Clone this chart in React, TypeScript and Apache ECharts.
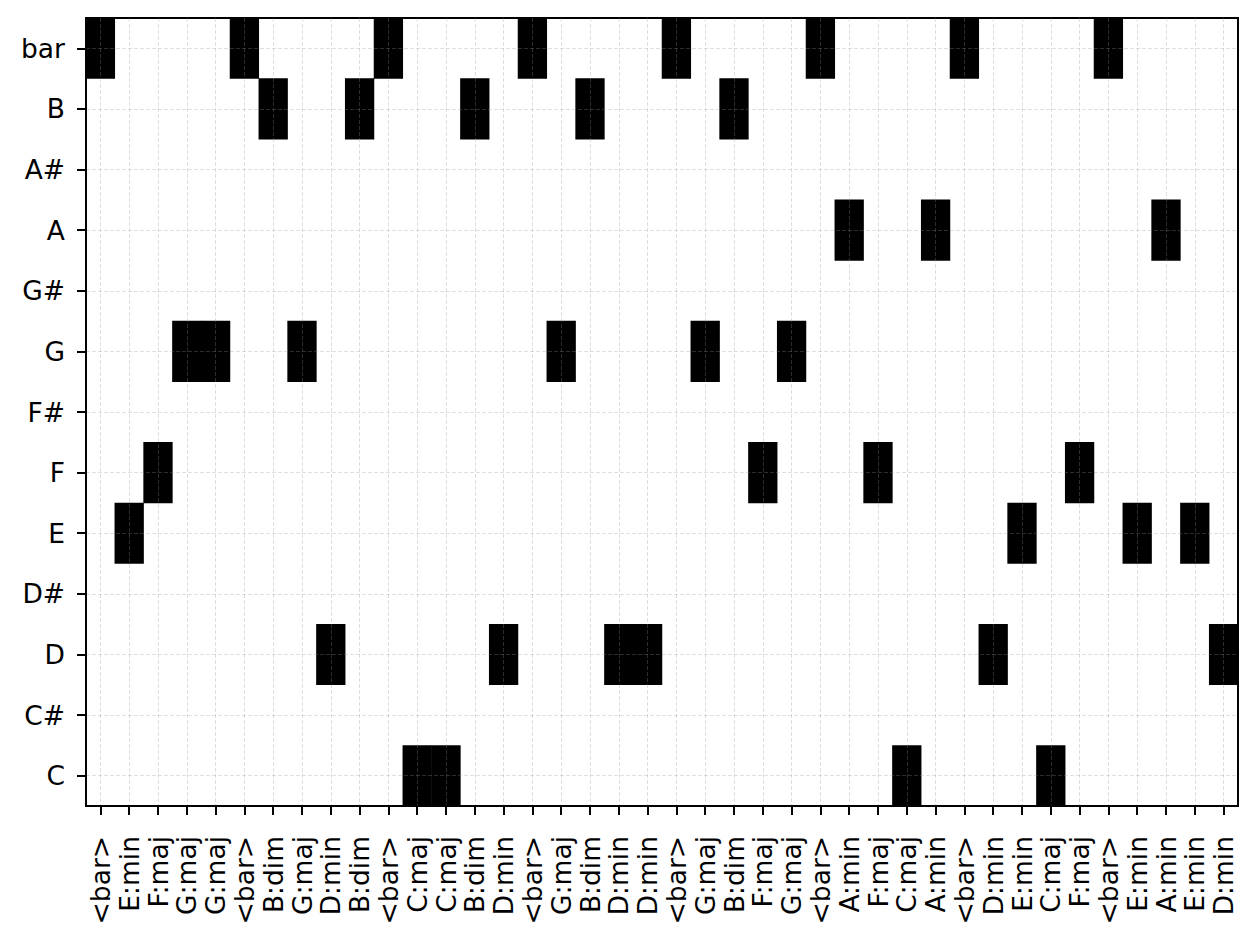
import React, { useEffect, useRef } from "react";
import * as echarts from "echarts";

const chordLabels = [
  "<bar>", "E:min", "F:maj", "G:maj", "G:maj", "<bar>", "B:dim", "G:maj", "D:min", "B:dim",
  "<bar>", "C:maj", "C:maj", "B:dim", "D:min", "<bar>", "G:maj", "B:dim", "D:min", "D:min",
  "<bar>", "G:maj", "B:dim", "F:maj", "G:maj", "<bar>", "A:min", "F:maj", "C:maj", "A:min",
  "<bar>", "D:min", "E:min", "C:maj", "F:maj", "<bar>", "E:min", "A:min", "E:min", "D:min",
];

const noteRows = ["C", "C#", "D", "D#", "E", "F", "F#", "G", "G#", "A", "A#", "B", "bar"];

const activeNotes = [
  "bar", "E", "F", "G", "G", "bar", "B", "G", "D", "B",
  "bar", "C", "C", "B", "D", "bar", "G", "B", "D", "D",
  "bar", "G", "B", "F", "G", "bar", "A", "F", "C", "A",
  "bar", "D", "E", "C", "F", "bar", "E", "A", "E", "D",
];

export default function App() {
  const ref = useRef<HTMLDivElement>(null);
  useEffect(() => {
    if (!ref.current) return;
    const chart = echarts.init(ref.current, null, { renderer: "svg" });
    const data = activeNotes.map((n, i) => [i, noteRows.indexOf(n), 1]);
    const font = "DejaVu Sans";
    const gridLine = {
      show: true,
      alignWithLabel: true,
      lineStyle: { color: "rgba(150,150,150,0.3)", width: 1, type: [4, 2] },
    };
    chart.setOption({
      animation: false,
      backgroundColor: "#fff",
      visualMap: {
        show: false,
        min: 0,
        max: 1,
        dimension: 2,
        inRange: { color: ["#ffffff", "#000000"] },
      },
      grid: {
        left: 86,
        right: 20,
        top: 18,
        bottom: 133,
        show: true,
        borderColor: "#000",
        borderWidth: 2,
        backgroundColor: "transparent",
      },
      xAxis: {
        type: "category",
        data: chordLabels,
        z: 5,
        axisLine: { show: true, lineStyle: { color: "#000", width: 2 } },
        axisTick: { show: true, alignWithLabel: true, length: 9, lineStyle: { color: "#000", width: 2 } },
        axisLabel: {
          rotate: 90,
          interval: 0,
          margin: 30,
          fontFamily: font,
          fontSize: 26.5,
          color: "#000",
        },
        splitLine: gridLine,
      },
      yAxis: {
        type: "category",
        data: noteRows,
        z: 5,
        axisLine: { show: true, lineStyle: { color: "#000", width: 2 } },
        axisTick: { show: true, alignWithLabel: true, length: 9, lineStyle: { color: "#000", width: 2 } },
        axisLabel: {
          interval: 0,
          margin: 21,
          fontFamily: font,
          fontSize: 26.5,
          color: "#000",
        },
        splitLine: gridLine,
      },
      series: [
        {
          type: "heatmap",
          data,
          emphasis: { disabled: true },
        },
      ],
    });
    return () => chart.dispose();
  }, []);
  return (
    <div
      ref={ref}
      style={{ position: "fixed", left: 0, top: 0, width: 1258, height: 939 }}
    />
  );
}
